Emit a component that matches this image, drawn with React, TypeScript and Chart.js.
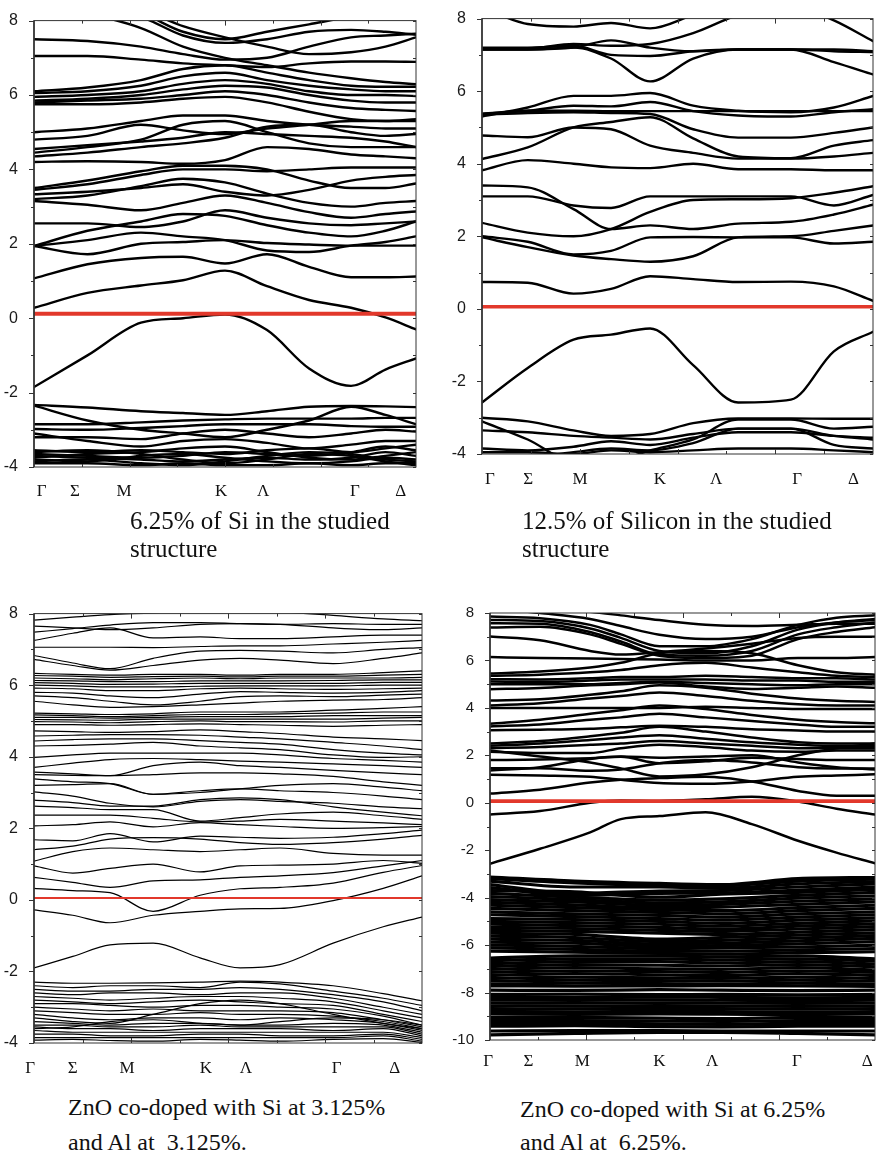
import React, { useEffect, useRef } from "react";
import { Chart, registerables } from "chart.js";
Chart.register(...registerables);

const kPointLabels = ["Γ", "Σ", "M", "K", "Λ", "Γ", "Δ"];
const RED = "#e2382b";

// ---------- top-left: 6.25% Si ----------
const tlK = [0, 0.14, 0.28, 0.39, 0.5, 0.61, 0.72, 0.83, 0.92, 1];
const tlLabelPos = [0.02, 0.107, 0.236, 0.49, 0.6, 0.84, 0.96];
const tlFermi = 0.12;
const tlBands = [
  [-2.33, -2.4, -2.5, -2.55, -2.6, -2.5, -2.38, -2.36, -2.37, -2.39],
  [-2.35, -2.75, -3.0, -3.1, -3.2, -3.0, -2.75, -2.38, -2.6, -2.85],
  [-2.85, -2.85, -2.8, -2.75, -2.72, -2.7, -2.7, -2.7, -2.68, -2.68],
  [-2.98, -3.0, -2.95, -2.9, -2.85, -2.85, -2.85, -2.9, -2.92, -2.92],
  [-3.2, -3.2, -3.25, -3.1, -3.0, -3.1, -3.2, -3.1, -3.0, -3.05],
  [-3.1, -3.3, -3.45, -3.3, -3.25, -3.35, -3.5, -3.4, -3.3, -3.3],
  [-3.55, -3.6, -3.55, -3.6, -3.65, -3.55, -3.5, -3.6, -3.5, -3.4],
  [-3.65, -3.7, -3.75, -3.7, -3.6, -3.65, -3.7, -3.6, -3.45, -3.55],
  [-3.7, -3.75, -3.8, -3.85, -3.8, -3.75, -3.8, -3.75, -3.6, -3.7],
  [-3.8, -3.85, -3.7, -3.65, -3.75, -3.85, -3.9, -3.85, -3.75, -3.8],
  [-3.9, -3.9, -3.95, -3.9, -3.95, -3.95, -3.9, -3.95, -3.9, -3.9],
  [-3.6, -3.55, -3.65, -3.8, -3.9, -3.8, -3.65, -3.7, -3.85, -3.95],
  [-3.75, -3.65, -3.6, -3.5, -3.45, -3.6, -3.75, -3.8, -3.7, -3.6],
  [-3.85, -3.8, -3.9, -3.95, -3.85, -3.7, -3.6, -3.65, -3.8, -3.85],
  [-1.85, -1.0, -0.12, 0.0, 0.1, -0.32, -1.35, -1.82, -1.38, -1.08],
  [0.28, 0.68, 0.88, 1.02, 1.28, 0.86, 0.49, 0.28, 0.02, -0.3],
  [1.07, 1.45, 1.62, 1.65, 1.47, 1.72, 1.38, 1.1, 1.1, 1.12],
  [1.94, 1.72, 2.0, 2.05, 2.1, 2.02, 1.98, 1.95, 1.95, 1.95],
  [1.94, 2.1, 2.3, 2.2, 2.1, 1.82, 1.78, 1.95, 2.05, 2.2],
  [1.94, 2.35, 2.6, 2.8, 2.75, 2.5, 2.3, 2.2, 2.35, 2.6],
  [2.55, 2.55, 2.45, 2.6, 2.9, 2.7, 2.55, 2.5, 2.55, 2.6],
  [3.15, 3.05, 2.9, 3.1, 3.3, 3.1, 2.85, 2.7, 2.8, 2.87],
  [3.2, 3.3, 3.55, 3.75, 3.65, 3.35, 3.1, 3.0, 3.1, 3.15],
  [3.33, 3.4, 3.5, 3.6, 3.4, 3.3, 3.45, 3.7, 3.8, 3.85],
  [3.45, 3.6, 3.85, 4.0, 4.0, 3.95, 4.0, 4.05, 4.05, 4.05],
  [3.5, 3.7, 3.95, 4.1, 4.1, 4.0, 3.7, 3.5, 3.5, 3.62],
  [4.2, 4.22, 4.2, 4.15, 4.25, 4.6, 4.55, 4.4, 4.35, 4.3],
  [4.35, 4.45, 4.6, 4.7, 4.85, 5.15, 5.2, 5.0, 4.9, 4.95],
  [4.45, 4.6, 4.8, 5.2, 5.3, 5.0, 4.7, 4.6, 4.6, 4.6],
  [4.55, 4.65, 4.75, 4.85, 5.0, 4.95, 4.9, 4.85, 4.75, 4.6],
  [4.8, 4.9, 5.2, 5.05, 4.95, 5.1, 5.2, 5.3, 5.3, 5.35],
  [5.0, 5.1, 5.3, 5.45, 5.45, 5.3, 5.2, 5.15, 5.1, 5.1],
  [5.75, 5.75, 5.8, 5.9, 5.95, 5.8, 5.55, 5.35, 5.3, 5.3],
  [5.8, 5.85, 5.9, 6.0, 6.1, 6.0, 5.8, 5.65, 5.6, 5.57],
  [5.85, 5.9, 6.0, 6.15, 6.25, 6.2, 6.0, 5.85, 5.8, 5.8],
  [5.95, 6.0, 6.1, 6.3, 6.4, 6.3, 6.1, 6.0, 6.0, 5.97],
  [6.05, 6.1, 6.25, 6.5, 6.6, 6.4, 6.25, 6.15, 6.1, 6.1],
  [6.1, 6.2, 6.4, 6.7, 6.8, 6.6, 6.4, 6.25, 6.22, 6.22],
  [8.5, 8.2, 7.8, 7.3, 7.0, 6.8, 6.6, 6.45, 6.35, 6.29],
  [7.05, 7.05, 6.95, 6.85, 6.8, 6.75, 6.85, 6.9, 6.9, 6.89],
  [7.5, 7.45, 7.3, 7.1, 6.95, 7.0, 7.3, 7.55, 7.6, 7.65],
  [8.9, 8.6, 8.3, 7.85, 7.55, 7.3, 7.1, 7.15, 7.3, 7.55],
  [8.8, 8.5, 8.2, 7.7, 7.5, 7.7, 7.9, 8.1, 8.2, 8.3],
  [8.6, 8.4, 8.1, 7.6, 7.4, 7.5, 7.7, 7.75, 7.7, 7.62],
];

// ---------- top-right: 12.5% Si ----------
const trK = [0, 0.117, 0.234, 0.33, 0.43, 0.54, 0.655, 0.79, 0.9, 1.0];
const trLabelPos = [0.02, 0.118, 0.251, 0.455, 0.599, 0.806, 0.95];
const trFermi = 0.06;
const trBands = [
  [8.3, 7.85, 7.78, 7.88, 7.73, 8.1, 8.5, 8.5, 8.5, 8.5],
  [8.6, 8.6, 8.6, 8.6, 8.6, 8.6, 8.6, 8.4, 7.95, 7.38],
  [7.18, 7.18, 7.3, 7.25, 7.3, 7.6, 8.1, 8.4, 8.4, 8.4],
  [7.15, 7.15, 7.2, 7.4, 7.2, 7.1, 7.15, 7.15, 7.1, 7.08],
  [7.2, 7.2, 7.25, 7.0, 6.97, 7.1, 7.15, 7.15, 7.15, 7.1],
  [7.15, 7.15, 7.2, 6.9, 6.27, 6.9, 7.15, 7.15, 6.8, 6.46],
  [5.3, 5.55, 5.87, 5.87, 5.95, 5.6, 5.46, 5.42, 5.55, 5.87],
  [5.37, 5.46, 5.46, 5.45, 5.45, 5.45, 5.45, 5.45, 5.45, 5.45],
  [5.38, 5.46, 5.6, 5.58, 5.7, 5.45, 5.33, 5.3, 5.42, 5.5],
  [5.35, 5.4, 5.42, 5.4, 5.37, 4.95, 4.72, 4.72, 4.85, 5.0],
  [4.78, 4.73, 5.0, 4.95, 4.5, 4.3, 4.14, 4.14, 4.2, 4.3],
  [4.13, 4.45, 5.0, 5.15, 5.28, 4.7, 4.2, 4.15, 4.5, 4.65],
  [3.82, 4.1, 4.0, 3.9, 3.88, 4.0, 3.85, 3.85, 3.82, 3.82],
  [3.4, 3.35, 2.75, 2.2, 2.3, 2.2, 2.35, 2.4, 2.6, 2.87],
  [3.1, 3.1, 2.85, 2.78, 3.1, 3.1, 3.1, 3.1, 2.85, 3.14],
  [2.37, 2.1, 2.0, 2.2, 2.67, 3.0, 3.02, 3.05, 3.2, 3.38],
  [1.97, 1.7, 1.47, 1.37, 1.3, 1.45, 1.97, 2.0, 2.15, 2.3],
  [2.0, 1.85, 1.5, 1.6, 1.97, 1.98, 1.97, 1.97, 1.8, 1.85],
  [0.74, 0.72, 0.42, 0.55, 0.9, 0.82, 0.74, 0.75, 0.62, 0.22],
  [-2.58, -1.63, -0.85, -0.71, -0.54, -1.55, -2.58, -2.5, -1.17, -0.63],
  [-3.0, -3.1, -3.35, -3.5, -3.45, -3.15, -3.02, -3.02, -3.03, -3.03],
  [-3.1, -3.6, -4.2, -4.2, -3.9, -3.6, -3.05, -3.05, -3.3, -3.25],
  [-3.35, -3.4, -3.5, -3.55, -3.6, -3.45, -3.3, -3.3, -3.5, -3.6],
  [-3.85, -3.9, -3.8, -3.65, -3.75, -3.55, -3.4, -3.4, -3.5, -3.55],
  [-3.95, -3.95, -4.0, -3.9, -3.95, -3.9, -3.85, -3.85, -3.9, -3.95],
  [-4.2, -4.1, -3.95, -3.85, -3.9, -3.7, -3.3, -3.3, -3.75, -3.85],
];

// ---------- bottom-left: Si 3.125% + Al 3.125% ----------
const blK = [0, 0.1, 0.196, 0.307, 0.428, 0.531, 0.634, 0.771, 0.9, 1.0];
const blLabelPos = [-0.01, 0.1, 0.24, 0.443, 0.546, 0.78, 0.93];
const blFermi = 0.055;
const blBands = [
  [7.82, 7.9, 7.97, 8.02, 8.1, 8.1, 8.05, 7.95, 7.85, 7.8],
  [7.65, 7.6, 7.55, 7.6, 7.7, 7.72, 7.7, 7.6, 7.55, 7.6],
  [7.48, 7.58, 7.68, 7.75, 7.75, 7.72, 7.7, 7.72, 7.7, 7.7],
  [7.25, 7.45, 7.6, 7.32, 7.35, 7.3, 7.3, 7.35, 7.4, 7.4],
  [7.06, 7.06, 7.06, 7.05, 7.08, 7.1, 7.1, 7.15, 7.2, 7.25],
  [6.83, 6.62, 6.46, 6.75, 6.95, 6.97, 6.95, 6.9, 7.0, 7.05],
  [6.72, 6.55, 6.42, 6.55, 6.7, 6.75, 6.7, 6.6, 6.75, 6.9],
  [6.33, 6.3, 6.28, 6.3, 6.3, 6.28, 6.3, 6.3, 6.35, 6.4],
  [6.27, 6.25, 6.22, 6.24, 6.25, 6.23, 6.25, 6.25, 6.28, 6.3],
  [6.2, 6.18, 6.15, 6.18, 6.2, 6.18, 6.2, 6.2, 6.2, 6.22],
  [6.13, 6.12, 6.1, 6.1, 6.12, 6.12, 6.12, 6.13, 6.15, 6.15],
  [6.07, 6.05, 6.02, 6.03, 6.05, 6.05, 6.05, 6.05, 6.08, 6.08],
  [6.0, 5.98, 5.95, 5.95, 5.97, 5.98, 5.98, 5.98, 6.0, 6.0],
  [5.92, 5.9, 5.85, 5.85, 5.9, 5.92, 5.9, 5.88, 5.9, 5.92],
  [5.8, 5.78, 5.7, 5.65, 5.75, 5.82, 5.8, 5.78, 5.8, 5.85],
  [5.7, 5.65, 5.55, 5.45, 5.55, 5.68, 5.7, 5.68, 5.72, 5.75],
  [5.55, 5.45, 5.38, 5.4, 5.45, 5.5, 5.55, 5.58, 5.6, 5.65],
  [5.22, 5.2, 5.18, 5.2, 5.25, 5.25, 5.25, 5.3, 5.35, 5.4],
  [5.17, 5.15, 5.12, 5.15, 5.18, 5.18, 5.2, 5.22, 5.25, 5.25],
  [5.1, 5.1, 5.08, 5.1, 5.12, 5.12, 5.12, 5.15, 5.15, 5.15],
  [5.04, 5.03, 5.02, 5.05, 5.05, 5.05, 5.05, 5.05, 5.08, 5.1],
  [4.98, 4.97, 4.95, 4.98, 5.0, 4.98, 4.98, 4.97, 5.0, 5.0],
  [4.9, 4.9, 4.88, 4.9, 4.92, 4.9, 4.88, 4.85, 4.88, 4.9],
  [4.72, 4.7, 4.68, 4.7, 4.75, 4.7, 4.65, 4.55, 4.5, 4.45],
  [4.58, 4.6, 4.62, 4.62, 4.6, 4.55, 4.5, 4.4, 4.3, 4.2],
  [4.44, 4.48, 4.5, 4.5, 4.45, 4.4, 4.35, 4.2, 4.1, 4.05],
  [4.3, 4.32, 4.35, 4.4, 4.3, 4.25, 4.2, 4.05, 3.98, 4.0],
  [3.98, 4.05, 4.1, 4.1, 4.1, 4.1, 4.05, 3.95, 3.9, 3.85],
  [3.7, 3.82, 3.92, 3.95, 3.92, 3.88, 3.85, 3.8, 3.75, 3.7],
  [3.57, 3.52, 3.47, 3.75, 3.85, 3.75, 3.7, 3.62, 3.55, 3.5],
  [3.5, 3.48, 3.47, 3.5, 3.55, 3.55, 3.52, 3.45, 3.3, 3.2],
  [3.38, 3.3, 3.25, 2.95, 3.0, 3.1, 3.2, 3.25, 3.15, 3.05],
  [3.2, 3.22, 3.25, 2.95, 3.05, 3.1, 3.05, 3.0, 2.9, 2.8],
  [3.02, 2.9, 2.7, 2.6, 2.75, 2.8, 2.75, 2.7, 2.6, 2.55],
  [2.79, 2.72, 2.62, 2.62, 2.8, 2.85, 2.8, 2.6, 2.45, 2.35],
  [2.62, 2.58, 2.52, 2.52, 2.2, 2.3, 2.4, 2.45, 2.35, 2.25],
  [2.37, 2.37, 2.37, 2.28, 2.18, 2.2, 2.25, 2.2, 2.15, 2.1],
  [2.07, 2.1, 2.18, 2.04, 2.16, 2.1, 2.05, 2.0, 2.02, 2.05],
  [1.68, 1.65, 1.85, 1.62, 1.78, 1.75, 1.72, 1.75, 1.85, 1.95],
  [1.4, 1.5, 1.7, 1.74, 1.7, 1.6, 1.55, 1.6, 1.7, 1.8],
  [1.08, 1.35, 1.45, 1.4, 1.35, 1.4, 1.45, 1.3, 1.25, 1.25],
  [0.95, 0.75, 0.88, 1.0, 0.78, 0.95, 0.97, 1.0, 1.1, 1.02],
  [0.63, 0.49, 0.35, 0.53, 0.56, 0.63, 0.67, 0.76, 0.95, 1.1],
  [0.32, 0.26, 0.2, -0.32, 0.13, 0.31, 0.35, 0.47, 0.77, 0.96],
  [-0.28, -0.43, -0.64, -0.43, -0.32, -0.25, -0.24, -0.02, 0.32, 0.67],
  [-1.9, -1.58, -1.26, -1.21, -1.62, -1.9, -1.81, -1.21, -0.75, -0.48],
  [-2.3, -2.33, -2.33, -2.32, -2.3, -2.27, -2.3, -2.4, -2.62, -2.82],
  [-2.4, -2.45, -2.4, -2.4, -2.45, -2.3, -2.35, -2.55, -2.75, -2.95],
  [-2.5, -2.55, -2.55, -2.5, -2.5, -2.45, -2.5, -2.65, -2.85, -3.1],
  [-2.6, -2.65, -2.6, -2.6, -2.65, -2.6, -2.6, -2.75, -3.0, -3.2],
  [-2.7, -2.75, -2.8, -2.75, -2.7, -2.7, -2.75, -2.85, -3.1, -3.3],
  [-2.8, -2.85, -2.9, -2.85, -2.8, -2.85, -2.9, -2.95, -3.2, -3.4],
  [-2.9, -2.9, -2.95, -3.0, -2.95, -2.95, -3.0, -3.05, -3.25, -3.5],
  [-3.0, -3.05, -3.1, -3.05, -3.1, -3.1, -3.1, -3.15, -3.35, -3.55],
  [-3.1, -3.15, -3.2, -3.2, -3.15, -3.2, -3.2, -3.25, -3.4, -3.6],
  [-3.2, -3.3, -3.35, -3.3, -3.3, -3.35, -3.3, -3.35, -3.45, -3.65],
  [-3.3, -3.4, -3.45, -3.2, -2.9, -2.8, -2.9, -3.2, -3.45, -3.6],
  [-3.4, -3.45, -3.5, -3.45, -3.45, -3.5, -3.5, -3.45, -3.5, -3.7],
  [-3.5, -3.5, -3.55, -3.55, -3.5, -3.55, -3.55, -3.55, -3.55, -3.75],
  [-3.55, -3.6, -3.6, -3.65, -3.6, -3.6, -3.6, -3.65, -3.6, -3.8],
  [-3.6, -3.55, -3.4, -3.35, -3.45, -3.5, -3.4, -3.3, -3.35, -3.5],
  [-3.65, -3.7, -3.7, -3.7, -3.7, -3.7, -3.7, -3.7, -3.7, -3.85],
  [-3.75, -3.75, -3.8, -3.8, -3.75, -3.75, -3.8, -3.8, -3.75, -3.9],
  [-3.85, -3.85, -3.85, -3.85, -3.85, -3.85, -3.85, -3.85, -3.8, -3.95],
  [-3.92, -3.9, -3.93, -3.95, -3.9, -3.92, -3.95, -3.9, -3.88, -3.98],
];

// ---------- bottom-right: Si 6.25% + Al 6.25% ----------
const brK = [0, 0.13, 0.26, 0.34, 0.44, 0.56, 0.68, 0.8, 0.9, 1.0];
const brLabelPos = [-0.005, 0.1, 0.24, 0.44, 0.577, 0.797, 0.98];
const brFermi = 0.07;
const brBands = [
  [8.3, 8.2, 8.05, 7.9, 7.7, 7.5, 7.45, 7.5, 7.55, 7.55],
  [8.2, 8.0, 7.75, 7.45, 7.08, 6.9, 7.0, 7.4, 7.6, 7.7],
  [7.85, 7.78, 7.5, 7.1, 6.6, 6.6, 6.9, 7.5, 7.8, 7.9],
  [7.71, 7.66, 7.35, 6.95, 6.4, 6.3, 6.6, 7.3, 7.6, 7.75],
  [7.57, 7.55, 7.2, 6.8, 6.25, 6.2, 6.4, 7.1, 7.4, 7.6],
  [7.39, 7.42, 7.1, 6.7, 6.2, 6.1, 6.2, 6.9, 7.2, 7.4],
  [7.01, 6.85, 6.4, 6.25, 6.35, 6.5, 6.7, 6.95, 7.0, 7.0],
  [6.14, 6.1, 6.08, 6.06, 6.04, 6.0, 6.0, 6.1, 6.1, 6.14],
  [5.45, 5.53, 5.7, 5.9, 6.3, 6.4, 6.3, 5.8, 5.5, 5.4],
  [5.35, 5.4, 5.5, 5.6, 5.8, 5.9, 5.7, 5.5, 5.35, 5.3],
  [5.21, 5.2, 5.25, 5.3, 5.3, 5.35, 5.3, 5.25, 5.25, 5.2],
  [5.11, 5.1, 5.15, 5.2, 5.2, 5.2, 5.15, 5.15, 5.1, 5.1],
  [5.0, 5.0, 5.0, 5.05, 5.1, 5.05, 5.0, 4.95, 5.0, 5.0],
  [4.79, 4.84, 4.95, 5.0, 5.07, 4.9, 4.8, 4.85, 4.9, 4.85],
  [4.31, 4.36, 4.55, 4.7, 4.95, 4.85, 4.6, 4.4, 4.3, 4.25],
  [4.1, 4.2, 4.4, 4.5, 4.65, 4.5, 4.3, 4.15, 4.1, 4.1],
  [4.0, 4.0, 4.0, 4.0, 4.0, 4.05, 4.0, 3.95, 3.95, 3.95],
  [3.33, 3.5, 3.75, 3.9, 4.1, 3.95, 3.7, 3.5, 3.4, 3.35],
  [3.22, 3.3, 3.5, 3.6, 3.75, 3.6, 3.45, 3.3, 3.2, 3.2],
  [3.06, 3.08, 3.12, 3.18, 3.25, 3.2, 3.1, 3.05, 3.0, 3.0],
  [2.5, 2.6, 2.8, 2.95, 3.2, 3.0, 2.75, 2.55, 2.5, 2.5],
  [2.4, 2.5, 2.65, 2.75, 2.85, 2.7, 2.55, 2.45, 2.4, 2.4],
  [2.3, 2.35, 2.45, 2.5, 2.6, 2.5, 2.4, 2.3, 2.3, 2.3],
  [2.15, 2.1, 2.1, 2.3, 2.45, 2.35, 2.2, 2.15, 2.2, 2.2],
  [2.2, 1.95, 1.7, 1.45, 1.11, 1.2, 1.5, 2.0, 2.3, 2.5],
  [1.8, 1.82, 1.88, 1.94, 1.67, 1.75, 1.9, 1.85, 1.8, 1.8],
  [1.46, 1.46, 1.35, 1.4, 1.67, 1.8, 1.7, 1.5, 1.45, 1.45],
  [1.36, 1.5, 1.85, 1.95, 1.9, 1.95, 2.0, 1.7, 1.5, 1.4],
  [1.18, 1.15, 1.1, 0.97, 0.83, 0.8, 0.9, 1.1, 1.15, 1.2],
  [0.39, 0.55, 0.85, 0.97, 1.04, 1.1, 0.9, 0.5, 0.3, 0.3],
  [-0.49, -0.35, 0.0, 0.1, 0.08, 0.15, 0.25, 0.05, -0.25, -0.5],
  [-2.57, -1.94, -1.25, -0.69, -0.56, -0.4, -0.9, -1.6, -2.1, -2.55],
];
const brLowK = [0, 0.22, 0.44, 0.6, 0.8, 1.0];
const brLowBands = [
  [-3.13, -3.3, -3.4, -3.45, -3.2, -3.15],
  [-3.2, -3.38, -3.48, -3.5, -3.3, -3.22],
  [-3.3, -3.55, -3.55, -3.6, -3.42, -3.32],
  [-3.45, -3.82, -3.72, -3.7, -3.55, -3.42],
  [-3.58, -3.9, -3.82, -3.8, -3.68, -3.55],
  [-3.7, -3.75, -3.98, -3.85, -3.78, -3.65],
  [-3.82, -3.98, -4.1, -4.05, -3.9, -3.78],
  [-3.95, -4.08, -4.22, -4.18, -4.02, -3.92],
  [-4.08, -4.18, -4.32, -4.28, -4.15, -4.05],
  [-4.2, -4.3, -4.42, -4.4, -4.28, -4.18],
  [-4.32, -4.42, -4.52, -4.55, -4.42, -4.32],
  [-4.45, -4.55, -4.62, -4.68, -4.55, -4.45],
  [-4.6, -4.68, -4.75, -4.82, -4.68, -4.6],
  [-4.72, -4.8, -4.88, -4.95, -4.82, -4.72],
  [-4.88, -4.92, -5.0, -5.08, -4.95, -4.85],
  [-5.0, -5.05, -5.12, -5.2, -5.08, -4.98],
  [-5.12, -5.18, -5.25, -5.32, -5.2, -5.1],
  [-5.25, -5.3, -5.38, -5.42, -5.32, -5.22],
  [-5.38, -5.42, -5.5, -5.55, -5.45, -5.35],
  [-5.5, -5.55, -5.75, -5.68, -5.58, -5.48],
  [-5.62, -5.68, -5.85, -5.8, -5.7, -5.6],
  [-5.75, -5.8, -5.95, -5.92, -5.82, -5.72],
  [-5.88, -5.92, -6.05, -6.02, -5.95, -5.85],
  [-6.0, -6.05, -6.15, -6.12, -6.08, -6.0],
  [-6.12, -6.18, -6.25, -6.25, -6.2, -6.15],
  [-6.25, -6.3, -6.35, -6.38, -6.32, -6.28],
  [-6.55, -6.45, -6.45, -6.5, -6.45, -6.58],
  [-6.65, -6.58, -6.58, -6.62, -6.58, -6.68],
  [-6.78, -6.7, -6.7, -6.75, -6.7, -6.8],
  [-6.9, -6.82, -6.85, -6.88, -6.82, -6.92],
  [-7.02, -6.95, -7.0, -7.02, -6.95, -7.05],
  [-7.15, -7.08, -7.12, -7.15, -7.08, -7.15],
  [-7.28, -7.2, -7.25, -7.28, -7.2, -7.28],
  [-7.4, -7.35, -7.38, -7.4, -7.35, -7.4],
  [-7.52, -7.48, -7.5, -7.52, -7.48, -7.52],
  [-7.65, -7.6, -7.62, -7.65, -7.6, -7.65],
  [-7.72, -7.73, -7.72, -7.71, -7.72, -7.74],
  [-7.9, -7.91, -7.88, -7.9, -7.92, -7.9],
  [-8.08, -8.07, -8.09, -8.08, -8.1, -8.08],
  [-8.2, -8.21, -8.19, -8.2, -8.22, -8.2],
  [-8.32, -8.33, -8.31, -8.32, -8.34, -8.32],
  [-8.44, -8.45, -8.43, -8.44, -8.46, -8.44],
  [-8.56, -8.57, -8.55, -8.56, -8.58, -8.56],
  [-8.68, -8.69, -8.67, -8.68, -8.7, -8.68],
  [-8.8, -8.81, -8.79, -8.8, -8.82, -8.8],
  [-8.9, -8.92, -8.9, -8.91, -8.93, -8.9],
  [-9.05, -9.05, -9.08, -9.1, -9.05, -9.05],
  [-9.18, -9.18, -9.2, -9.22, -9.18, -9.18],
  [-9.3, -9.3, -9.32, -9.34, -9.3, -9.3],
  [-9.42, -9.4, -9.44, -9.45, -9.42, -9.42],
  [-9.62, -9.6, -9.6, -9.62, -9.62, -9.62],
  [-9.78, -9.72, -9.68, -9.68, -9.72, -9.78],
];

type Spec = {
  left: number; top: number; w: number; h: number;
  yMin: number; yMax: number;
  k: number[]; bands: number[][];
  k2?: number[]; bands2?: number[][];
  fermi: number; lw: number; lw2?: number; fw: number;
  labelPos: number[]; labelDy: number; yFont: number; xFont: number;
};

const PAD_L = 46, PAD_T = 12, PAD_R = 8, PAD_B = 44;

const SPECS: Spec[] = [
  { left: 34, top: 15, w: 382, h: 452, yMin: -4, yMax: 8, k: tlK, bands: tlBands, fermi: tlFermi, lw: 2.4, fw: 4, labelPos: tlLabelPos, labelDy: 25, yFont: 16, xFont: 17 },
  { left: 482, top: 13, w: 391, h: 441, yMin: -4, yMax: 8, k: trK, bands: trBands, fermi: trFermi, lw: 2.4, fw: 3.6, labelPos: trLabelPos, labelDy: 26, yFont: 16, xFont: 17 },
  { left: 34, top: 608, w: 388, h: 435, yMin: -4, yMax: 8, k: blK, bands: blBands, fermi: blFermi, lw: 1.2, fw: 2, labelPos: blLabelPos, labelDy: 26, yFont: 16, xFont: 17 },
  { left: 490, top: 608, w: 385, h: 432, yMin: -10, yMax: 8, k: brK, bands: brBands, k2: brLowK, bands2: brLowBands, fermi: brFermi, lw: 2.5, lw2: 3.2, fw: 3.6, labelPos: brLabelPos, labelDy: 22, yFont: 15, xFont: 17 },
];

function framePlugin(spec: Spec) {
  return {
    id: "frame",
    afterDatasetsDraw(chart: any) {
      const { ctx, chartArea: a, scales } = chart;
      const ys = scales.y;
      ctx.save();
      ctx.strokeStyle = "#333";
      ctx.lineWidth = 1;
      ctx.strokeRect(a.left, a.top, a.right - a.left, a.bottom - a.top);
      ctx.lineWidth = 1.6;
      ctx.beginPath();
      ctx.moveTo(a.left, a.top);
      ctx.lineTo(a.left, a.bottom);
      ctx.stroke();
      ctx.lineWidth = 1;
      for (let v = spec.yMin; v <= spec.yMax; v += 1) {
        const py = Math.round(ys.getPixelForValue(v)) + 0.5;
        const major = (v - spec.yMin) % 2 === 0;
        ctx.beginPath();
        ctx.moveTo(a.left - (major ? 5 : 3), py);
        ctx.lineTo(a.left, py);
        ctx.moveTo(a.right, py);
        ctx.lineTo(a.right - 3, py);
        ctx.stroke();
      }
      for (let i = 1; i < 8; i++) {
        const px = Math.round(a.left + ((a.right - a.left) * i) / 8) + 0.5;
        const len = i % 2 === 0 ? 5 : 3;
        ctx.beginPath();
        ctx.moveTo(px, a.top);
        ctx.lineTo(px, a.top + len);
        ctx.moveTo(px, a.bottom);
        ctx.lineTo(px, a.bottom - len);
        ctx.stroke();
      }
      ctx.fillStyle = "#111";
      ctx.font = `${spec.xFont}px "Liberation Serif", "Times New Roman", serif`;
      ctx.textAlign = "center";
      ctx.textBaseline = "middle";
      kPointLabels.forEach((t, i) => {
        ctx.fillText(t, a.left + spec.labelPos[i] * (a.right - a.left), a.bottom + spec.labelDy);
      });
      ctx.restore();
    },
  };
}

function BandPanel({ spec }: { spec: Spec }) {
  const ref = useRef<HTMLCanvasElement>(null);
  const W = spec.w + PAD_L + PAD_R;
  const H = spec.h + PAD_T + PAD_B;
  useEffect(() => {
    const datasets: any[] = [];
    datasets.push({
      data: [{ x: 0, y: spec.fermi }, { x: 1, y: spec.fermi }],
      borderColor: RED, borderWidth: spec.fw, pointRadius: 0, order: 0,
    });
    spec.bands.forEach((b) =>
      datasets.push({
        data: spec.k.map((x, i) => ({ x, y: b[i] })),
        borderColor: "#000", borderWidth: spec.lw, pointRadius: 0,
        cubicInterpolationMode: "monotone", order: 1,
      })
    );
    if (spec.k2 && spec.bands2) {
      const k2 = spec.k2;
      spec.bands2.forEach((b) =>
        datasets.push({
          data: k2.map((x, i) => ({ x, y: b[i] })),
          borderColor: "#000", borderWidth: spec.lw2 || spec.lw, pointRadius: 0,
          cubicInterpolationMode: "monotone", order: 2,
        })
      );
    }
    const chart = new Chart(ref.current as HTMLCanvasElement, {
      type: "line",
      data: { datasets },
      options: {
        responsive: false,
        animation: false,
        devicePixelRatio: 1,
        layout: { padding: { top: PAD_T, right: PAD_R, left: 0, bottom: 0 } },
        plugins: { legend: { display: false }, tooltip: { enabled: false } },
        elements: { line: { borderCapStyle: "round", borderJoinStyle: "round" } },
        scales: {
          x: {
            type: "linear", min: 0, max: 1,
            ticks: { display: false },
            grid: { display: false },
            border: { display: false },
            afterFit: (s: any) => { s.height = PAD_B; },
          },
          y: {
            min: spec.yMin, max: spec.yMax,
            ticks: {
              stepSize: 2, padding: 8, color: "#1a1a1a",
              font: { family: '"Liberation Sans", Arial, sans-serif', size: spec.yFont },
            },
            grid: { display: false },
            border: { display: false },
            afterFit: (s: any) => { s.width = PAD_L; },
          },
        },
      } as any,
      plugins: [framePlugin(spec)],
    });
    return () => chart.destroy();
  }, []);
  return (
    <canvas
      ref={ref}
      width={W}
      height={H}
      style={{ position: "absolute", left: spec.left - PAD_L, top: spec.top - PAD_T, width: W, height: H }}
    />
  );
}

const captionStyle: React.CSSProperties = {
  position: "absolute",
  fontFamily: '"Liberation Serif", "Times New Roman", Times, serif',
  fontSize: 24,
  lineHeight: "35px",
  color: "#111",
  whiteSpace: "nowrap",
};

export default function App() {
  return (
    <div style={{ position: "absolute", left: 0, top: 0, width: 876, height: 1156, overflow: "hidden", background: "#fff" }}>
      {SPECS.map((s, i) => <BandPanel key={i} spec={s} />)}
      <div style={{ ...captionStyle, fontSize: 25, lineHeight: "28px", left: 130, top: 507 }}>6.25% of Si in the studied<br />structure</div>
      <div style={{ ...captionStyle, fontSize: 25, lineHeight: "28px", left: 522, top: 507 }}>12.5% of Silicon in the studied<br />structure</div>
      <div style={{ ...captionStyle, left: 68, top: 1090 }}>ZnO co-doped with Si at 3.125%<br />and Al at&nbsp; 3.125%.</div>
      <div style={{ ...captionStyle, lineHeight: "33px", left: 520, top: 1093 }}>ZnO co-doped with Si at 6.25%<br />and Al at&nbsp; 6.25%.</div>
    </div>
  );
}
